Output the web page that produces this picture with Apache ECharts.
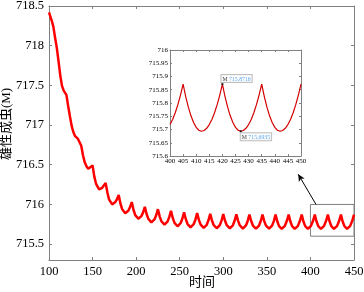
<!DOCTYPE html>
<html>
<head>
<meta charset="utf-8">
<script src="https://cdn.jsdelivr.net/npm/echarts@6/dist/echarts.min.js"></script>
<style>
  html, body { margin: 0; padding: 0; background: #fff; }
  #chart { width: 364px; height: 292px; }
</style>
</head>
<body>
<div id="chart"></div>
<script>
// 主曲线 [时间, 雄性成虫数量]
const mainCurve = [
  [100, 718.42], [103, 718.32], [105, 718.24], [107, 718.10], [109, 717.97],
  [111, 717.80], [113, 717.62], [115, 717.49], [117, 717.43], [120, 717.38],
  [122, 717.24], [124, 717.11], [126, 716.99], [128, 716.91], [130, 716.86],
  [133, 716.83], [135, 716.845], [137, 716.74], [139, 716.62], [141, 716.53],
  [143, 716.48], [145, 716.45], [147, 716.44],
  [150, 716.49], [152, 716.35], [154, 716.26], [157.5, 716.19], [161, 716.21], [163, 716.23],
  [165, 716.27], [167, 716.15], [169, 716.06], [172.5, 716.00], [176, 716.03], [178, 716.065],
  [180, 716.12], [182, 716.01], [184, 715.94], [187.5, 715.89], [191, 715.92], [193, 715.966],
  [195, 716.03], [197, 715.93], [199, 715.866], [202.5, 715.82], [206, 715.853], [208, 715.90],
  [210, 715.97], [212, 715.88], [214, 715.818], [217.5, 715.775], [221, 715.811], [223, 715.864],
  [225, 715.94], [227, 715.85], [229, 715.788], [232.5, 715.745], [236, 715.784], [238, 715.84],
  [240, 715.92], [242, 715.83], [244, 715.768], [247.5, 715.725], [251, 715.764], [253, 715.82],
  [255, 715.90], [257, 715.814], [259, 715.753], [262.5, 715.712], [266, 715.751], [268, 715.808],
  [270, 715.89], [272, 715.805], [274, 715.746], [277.5, 715.705], [281, 715.744], [283, 715.80],
  [285, 715.882], [287, 715.798], [289, 715.74], [292.5, 715.70], [296, 715.739], [298, 715.796],
  [300, 715.878], [302, 715.795], [304, 715.738], [307.5, 715.698], [311, 715.737], [313, 715.794],
  [315, 715.875], [317, 715.793], [319, 715.735], [322.5, 715.696], [326, 715.735], [328, 715.792],
  [330, 715.873], [332, 715.791], [334, 715.734], [337.5, 715.695], [341, 715.734], [343, 715.791],
  [345, 715.872], [347, 715.790], [349, 715.733], [352.5, 715.694], [356, 715.733], [358, 715.790],
  [360, 715.8716], [362, 715.785], [364, 715.726], [367, 715.6935], [370.5, 715.727], [373, 715.794],
  [375, 715.8716], [377, 715.785], [379, 715.726], [382, 715.6935], [385.5, 715.727], [388, 715.794],
  [390, 715.8716], [392, 715.785], [394, 715.726], [397, 715.6935], [400.5, 715.727], [403, 715.794],
  [405, 715.8716], [407, 715.785], [409, 715.726], [412, 715.6935], [415.5, 715.727], [418, 715.794],
  [420, 715.8716], [422, 715.785], [424, 715.726], [427, 715.6935], [430.5, 715.727], [433, 715.794],
  [435, 715.8716], [437, 715.785], [439, 715.726], [442, 715.6935], [445.5, 715.727], [448, 715.794],
  [450, 715.8716]
];

// 局部放大 400-450
const insetCurve = [
  [400, 715.7185], [401, 715.7380], [402, 715.7631], [403, 715.7937], [404, 715.8298],
  [405, 715.8716], [406, 715.8244], [407, 715.7844], [408, 715.7517], [409, 715.7262],
  [410, 715.7080], [411, 715.6971], [412, 715.6935], [413, 715.6963], [414, 715.7046],
  [415, 715.7185], [416, 715.7380], [417, 715.7631], [418, 715.7937], [419, 715.8298],
  [420, 715.8716], [421, 715.8244], [422, 715.7844], [423, 715.7517], [424, 715.7262],
  [425, 715.7080], [426, 715.6971], [427, 715.6935], [428, 715.6963], [429, 715.7046],
  [430, 715.7185], [431, 715.7380], [432, 715.7631], [433, 715.7937], [434, 715.8298],
  [435, 715.8716], [436, 715.8244], [437, 715.7844], [438, 715.7517], [439, 715.7262],
  [440, 715.7080], [441, 715.6971], [442, 715.6935], [443, 715.6963], [444, 715.7046],
  [445, 715.7185], [446, 715.7380], [447, 715.7631], [448, 715.7937], [449, 715.8298],
  [450, 715.8716]
];

// 数据提示点
const tipPoints = [[420, 715.8716], [427, 715.6935]];
const tipOffsets = [[0, -8], [1, 3]];

// 放大框与箭头
const zoomBox = [[400, 715.6], [450, 716]];
const arrowLine = [[406.4, 716.0], [386, 716.38]];

const xName = '时间';
const yName = '雄性成虫(M)';

const serif = 'Liberation Serif, Times New Roman, serif';
const nameFont = '13px "Liberation Serif", "Noto Sans CJK SC", serif';
const gray = '#808080';

const chart = echarts.init(document.getElementById('chart'));

function boxAxis(extra) {
  return Object.assign({
    type: 'value',
    axisLine: { show: true, onZero: false, lineStyle: { color: gray, width: 1 } },
    axisTick: { show: true, inside: true, length: 3, lineStyle: { color: gray } },
    axisLabel: { show: false },
    splitLine: { show: false }
  }, extra);
}

const insetTick = { show: true, inside: true, length: 2, lineStyle: { color: gray } };

chart.setOption({
  animation: false,
  grid: [
    { left: 49, right: 10, top: 6, bottom: 32, outerBoundsMode: 'none' },
    { left: 170, top: 50, width: 131, height: 106, show: true,
      backgroundColor: '#fff', borderWidth: 0, z: 5, outerBoundsMode: 'none' }
  ],
  graphic: [
    { type: 'text', x: 202, y: 283,
      style: { text: xName, font: nameFont, fill: '#000', align: 'center', verticalAlign: 'middle' } },
    { type: 'text', x: 7, y: 124, rotation: Math.PI / 2,
      style: { text: yName, font: nameFont, fill: '#000', align: 'center', verticalAlign: 'middle' } }
  ],
  xAxis: [
    boxAxis({ gridIndex: 0, position: 'bottom', min: 100, max: 450, interval: 50,
      axisLabel: { show: true, color: '#000', fontFamily: serif, fontSize: 12.5, margin: 5 } }),
    boxAxis({ gridIndex: 0, position: 'top', min: 100, max: 450, interval: 50 }),
    boxAxis({ gridIndex: 1, position: 'bottom', min: 400, max: 450, interval: 5, z: 6,
      axisTick: insetTick,
      axisLabel: { show: true, color: '#000', fontFamily: serif, fontSize: 7, margin: 2 } }),
    boxAxis({ gridIndex: 1, position: 'top', min: 400, max: 450, interval: 5, z: 6,
      axisTick: insetTick })
  ],
  yAxis: [
    boxAxis({ gridIndex: 0, position: 'left', min: 715.3, max: 718.5,
      minInterval: 0.5, maxInterval: 0.5,
      axisLabel: { show: true, color: '#000', fontFamily: serif, fontSize: 12.5, margin: 5,
        showMinLabel: false } }),
    boxAxis({ gridIndex: 0, position: 'right', min: 715.3, max: 718.5,
      minInterval: 0.5, maxInterval: 0.5 }),
    boxAxis({ gridIndex: 1, position: 'left', min: 715.6, max: 716, interval: 0.05, z: 6,
      axisTick: insetTick,
      axisLabel: { show: true, color: '#000', fontFamily: serif, fontSize: 7, margin: 2 } }),
    boxAxis({ gridIndex: 1, position: 'right', min: 715.6, max: 716, interval: 0.05, z: 6,
      axisTick: insetTick })
  ],
  series: [
    {
      type: 'line',
      xAxisIndex: 0, yAxisIndex: 0,
      data: mainCurve,
      showSymbol: false,
      lineStyle: { color: '#ff0000', width: 2.5 },
      markArea: {
        silent: true,
        itemStyle: { color: 'rgba(0,0,0,0)', borderColor: gray, borderWidth: 1 },
        data: [[{ coord: zoomBox[0] }, { coord: zoomBox[1] }]]
      },
      markLine: {
        silent: true,
        symbol: ['none', 'arrow'],
        symbolSize: [5, 7],
        label: { show: false },
        lineStyle: { color: '#000', width: 1, type: 'solid' },
        data: [[{ coord: arrowLine[0] }, { coord: arrowLine[1] }]]
      }
    },
    {
      type: 'line',
      xAxisIndex: 2, yAxisIndex: 2,
      data: insetCurve,
      showSymbol: false,
      z: 7,
      lineStyle: { color: '#d40000', width: 1.2 }
    },
    {
      type: 'scatter',
      xAxisIndex: 2, yAxisIndex: 2,
      z: 8,
      symbol: 'rect',
      symbolSize: 2,
      itemStyle: { color: '#000' },
      data: tipPoints.map((p, i) => ({
        value: p,
        label: { position: tipOffsets[i] }
      })),
      label: {
        show: true,
        formatter: p => '{m|M} {v|' + p.value[1] + '}',
        backgroundColor: '#fff',
        borderColor: '#b0b0b0',
        borderWidth: 1,
        padding: [1, 1, 0, 1],
        fontFamily: serif,
        fontSize: 5.8,
        lineHeight: 6,
        rich: {
          m: { color: '#000', fontFamily: serif, fontSize: 5.8 },
          v: { color: '#2a8be0', fontFamily: serif, fontSize: 5.8 }
        }
      }
    }
  ]
});
</script>
</body>
</html>
